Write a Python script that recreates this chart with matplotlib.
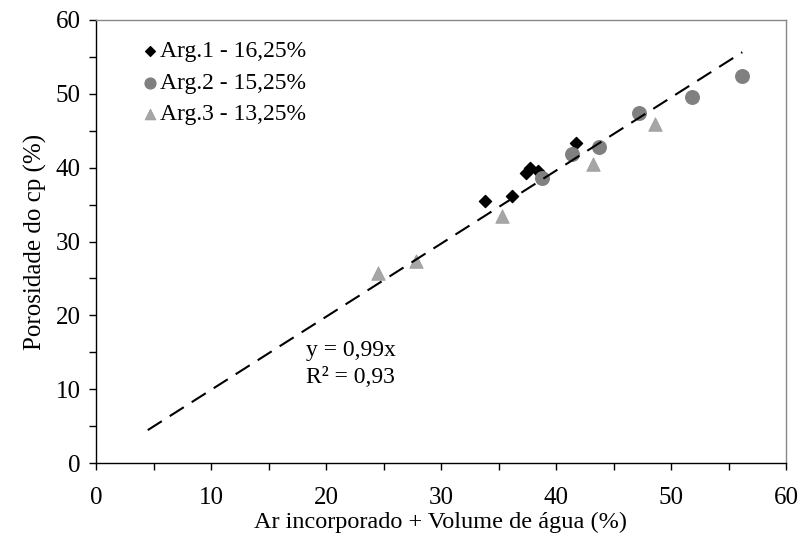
import numpy as np
import matplotlib.pyplot as plt
from matplotlib.ticker import MultipleLocator

plt.rcParams["font.family"] = ["Liberation Serif", "DejaVu Serif"]

# Arg.1 - 16,25%
arg1_x = [33.8, 36.2, 37.4, 37.7, 38.4, 41.7]
arg1_y = [35.5, 36.1, 39.3, 40.0, 39.6, 43.3]
# Arg.2 - 15,25%
arg2_x = [38.8, 41.4, 43.7, 47.2, 51.8, 56.2]
arg2_y = [38.6, 41.9, 42.8, 47.4, 49.6, 52.4]
# Arg.3 - 13,25%
arg3_x = [24.5, 27.8, 35.3, 43.2, 48.6]
arg3_y = [25.7, 27.4, 33.4, 40.5, 45.9]

slope = 0.99
fit_x = [4.5, 56.2]

fig = plt.figure(figsize=(8.02, 5.48), dpi=100)
ax = fig.add_axes([96 / 802, 1 - 463 / 548, (786 - 96) / 802, (463 - 20) / 548])

ax.scatter(arg1_x, arg1_y, marker="D", s=38, color="black", zorder=3, label="Arg.1 - 16,25%")
ax.scatter(arg2_x, arg2_y, marker="o", s=95, color="#808080", zorder=3, label="Arg.2 - 15,25%")
ax.scatter(arg3_x, arg3_y, marker="^", s=95, color="#a6a6a6", edgecolor="#999999",
           linewidth=0.5, zorder=3, label="Arg.3 - 13,25%")

fx = np.array(fit_x)
ax.plot(fx, slope * fx, color="black", linestyle=(0, (8, 4.5)), linewidth=1.5, zorder=4)

ax.text(18.3, 15.3, "y = 0,99x", fontsize=17, va="center")
ax.text(18.3, 11.6, "R² = 0,93", fontsize=17, va="center")

ax.set_xlim(0, 60)
ax.set_ylim(0, 60)
ax.xaxis.set_major_locator(MultipleLocator(10))
ax.xaxis.set_minor_locator(MultipleLocator(5))
ax.yaxis.set_major_locator(MultipleLocator(10))
ax.yaxis.set_minor_locator(MultipleLocator(5))
ax.tick_params(which="both", direction="out", length=5, width=1, labelsize=18,
               top=False, right=False)
ax.tick_params(axis="x", pad=12)
ax.tick_params(axis="y", pad=6)

for side in ("top", "right"):
    ax.spines[side].set_color("#888888")
    ax.spines[side].set_linewidth(1)
for side in ("left", "bottom"):
    ax.spines[side].set_color("black")
    ax.spines[side].set_linewidth(1)

ax.set_xlabel("Ar incorporado + Volume de água (%)", fontsize=17.5, labelpad=2)
ax.set_ylabel("Porosidade do cp (%)", fontsize=18, labelpad=6)

ax.legend(loc="upper left", bbox_to_anchor=(0.04, 0.99), frameon=False, fontsize=17,
          handlelength=0.8, handletextpad=0.05, labelspacing=0.42, markerscale=0.8,
          borderpad=0.2)

fig.savefig("out.png", dpi=100)
